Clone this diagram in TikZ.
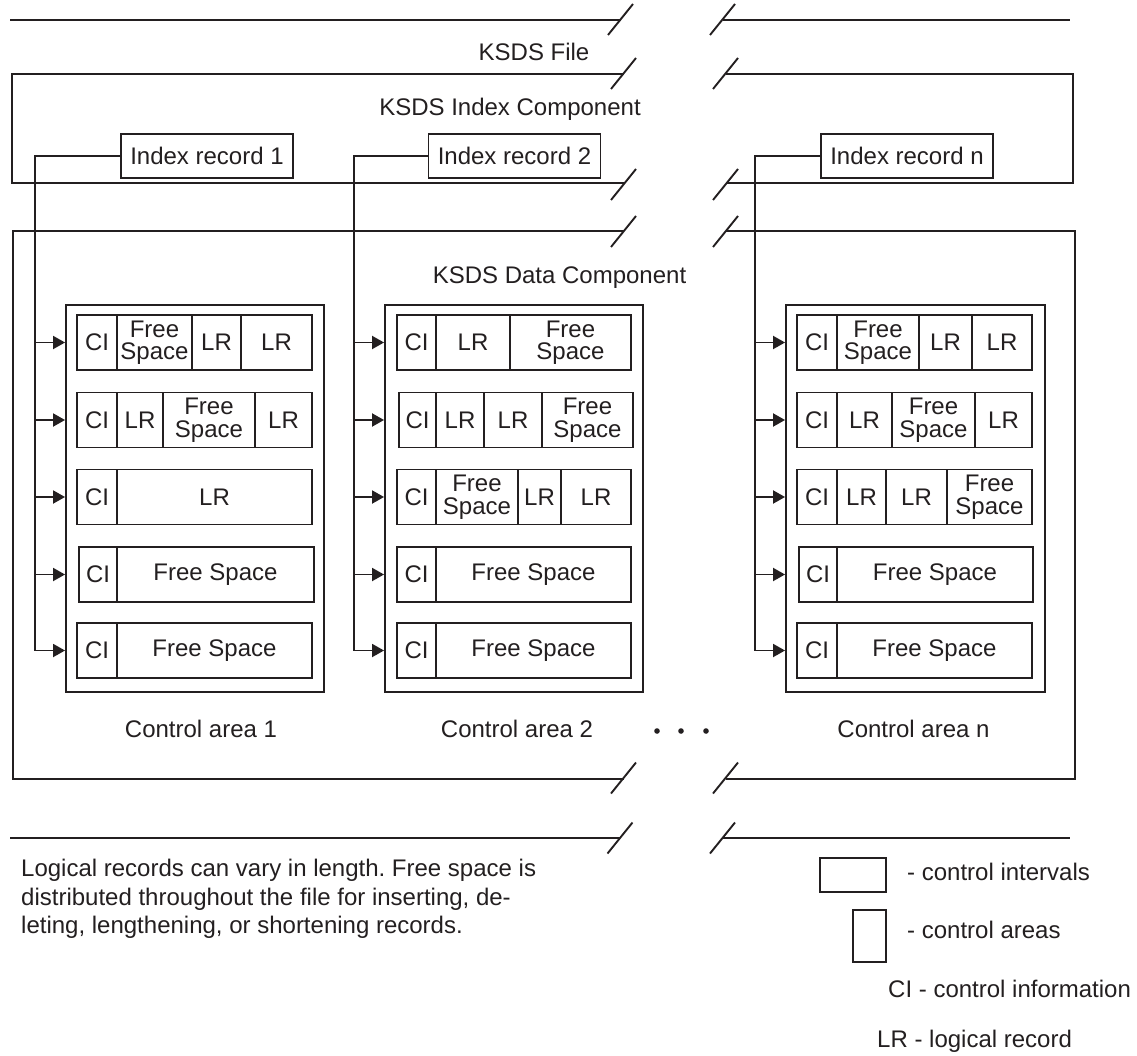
\documentclass[tikz,border=0pt]{standalone}
\usepackage{fontspec}
\setmainfont{Liberation Sans}
\usetikzlibrary{arrows.meta,positioning}
\definecolor{inkgray}{HTML}{231F20}
\frenchspacing

\newcommand{\cirow}[3]{%
  \foreach \xa/\xb/\txt [count=\k] in {#3}{%
    \node[cell,minimum width={(\xb-\xa)*1pt}] (#1-\k) at ({(\xa+\xb)/2},#2) {\txt};
  }%
}

\begin{document}
\begin{tikzpicture}[
        x=1pt,y=-1pt,
        every node/.style={font=\fontsize{24}{22.5}\selectfont,text=inkgray},
        wire/.style={line width=1.9pt,draw=inkgray},
        cell/.style={wire,minimum height=55pt,inner sep=0pt,align=center},
        irec/.style={wire,minimum width=172pt,minimum height=44pt,inner sep=0pt},
        carea/.style={wire,minimum width=258pt,minimum height=387pt,inner sep=0pt},
        legbox/.style={wire,inner sep=0pt},
        lbl/.style={inner sep=0pt},
        arr/.style={wire,-{Triangle[length=12pt,width=13pt]}},
        brk/.pic={\draw[wire] (-12.5,15.5) -- (12.5,-15.5);}
      ]
        \useasboundingbox (0,0) rectangle (1137,1055);

        \draw[wire] (10,20) -- (620.5,20);
        \draw[wire] (722.5,20) -- (1070,20);
        \pic at (620.5,19.5) {brk};
        \pic at (722.5,19.5) {brk};
        \node[lbl,anchor=base] (kfile) at (534,60) {KSDS File};

        \draw[wire] (623.5,74) -- (12,74) -- (12,183) -- (623.5,183);
        \draw[wire] (725.5,74) -- (1073,74) -- (1073,183) -- (725.5,183);
        \pic at (623.5,73.5) {brk};
        \pic at (725.5,73.5) {brk};
        \pic at (623.5,184.5) {brk};
        \pic at (725.5,184.5) {brk};
        \node[lbl,anchor=base] (kindex) at (510,115) {KSDS Index Component};

        \node[irec] (ir1) at (207,156) {Index record 1};
        \node[irec] (ir2) at (514.5,156) {Index record 2};
        \node[irec] (irn) at (907,156) {Index record n};

        \draw[wire] (623.5,231) -- (13,231) -- (13,779) -- (623.5,779);
        \draw[wire] (725.5,231) -- (1075,231) -- (1075,779) -- (725.5,779);
        \pic at (623.5,231.5) {brk};
        \pic at (725.5,231.5) {brk};
        \pic at (623.5,778) {brk};
        \pic at (725.5,778) {brk};
        \node[lbl,anchor=base] (kdata) at (559.5,283) {KSDS Data Component};

        \node[carea] (ca1) at (195,498.5) {};
        \node[carea] (ca2) at (514,498.5) {};
        \node[carea,minimum width=259pt] (can) at (915.5,498.5) {};

        \cirow{ca1-r1}{342.5}{77/117/CI, 117/192/{Free\\Space}, 192/241/LR, 241/312/LR}
        \cirow{ca1-r2}{420}{77/117/CI, 117/163/LR, 163/255/{Free\\Space}, 255/312/LR}
        \cirow{ca1-r3}{497}{77/117/CI, 117/312/LR}
        \cirow{ca1-r4}{574.5}{79/117/CI, 117/314/Free Space}
        \cirow{ca1-r5}{650.5}{77/117/CI, 117/312/Free Space}

        \cirow{ca2-r1}{342.5}{397/436/CI, 436/510/LR, 510/631/{Free\\Space}}
        \cirow{ca2-r2}{420}{399/436/CI, 436/484/LR, 484/542/LR, 542/633/{Free\\Space}}
        \cirow{ca2-r3}{497}{397/436/CI, 436/518/{Free\\Space}, 518/561/LR, 561/631/LR}
        \cirow{ca2-r4}{574.5}{397/436/CI, 436/631/Free Space}
        \cirow{ca2-r5}{650.5}{397/436/CI, 436/631/Free Space}

        \cirow{can-r1}{342.5}{797/837/CI, 837/919/{Free\\Space}, 919/972/LR, 972/1032/LR}
        \cirow{can-r2}{420}{797/837/CI, 837/892/LR, 892/975/{Free\\Space}, 975/1032/LR}
        \cirow{can-r3}{497}{797/837/CI, 837/886/LR, 886/947/LR, 947/1032/{Free\\Space}}
        \cirow{can-r4}{574.5}{799/837/CI, 837/1033/Free Space}
        \cirow{can-r5}{650.5}{797/837/CI, 837/1032/Free Space}

        \coordinate (bus1) at (35,650.5);
        \coordinate (bus2) at (354,650.5);
        \coordinate (busn) at (755,650.5);
        \draw[wire] (ir1.west) -| (bus1);
        \draw[wire] (ir2.west) -| (bus2);
        \draw[wire] (irn.west) -| (busn);
        \foreach \ca/\bus in {ca1/bus1,ca2/bus2,can/busn}
          \foreach \r in {1,...,5}
            \draw[arr] (\bus |- \ca-r\r-1) -- (\ca.west |- \ca-r\r-1);

        \node[lbl,below=27pt of ca1,xshift=6pt] (cl1) {Control area 1};
        \node[lbl,below=27pt of ca2,xshift=3pt] (cl2) {Control area 2};
        \node[lbl,below=27pt of can,xshift=-2pt] (cln) {Control area n};
        \foreach \dx in {657,681,706}
          \fill[inkgray] (\dx,731) circle (2.8pt);

        \draw[wire] (10,838) -- (620,838);
        \draw[wire] (722.5,838) -- (1070,838);
        \pic at (620,838) {brk};
        \pic at (722.5,838) {brk};

        \node[lbl,anchor=north west,align=left,font=\fontsize{24}{28.5}\selectfont] (note) at (21,859)
          {Logical records can vary in length. Free space is\\
           distributed throughout the file for inserting, de-\\
           leting, lengthening, or shortening records.};

        \node[legbox,minimum width=66pt,minimum height=34pt] (lci) at (853,875) {};
        \node[lbl,anchor=base west] (tci) at (907,880) {- control intervals};
        \node[legbox,minimum width=33pt,minimum height=52pt] (lca) at (869.5,936) {};
        \node[lbl,anchor=base west] (tca) at (907,938) {- control areas};
        \node[lbl,anchor=base west] (tinfo) at (888,997) {CI - control information};
        \node[lbl,anchor=base west] (tlr) at (877,1047) {LR - logical record};
      \end{tikzpicture}
\end{document}
